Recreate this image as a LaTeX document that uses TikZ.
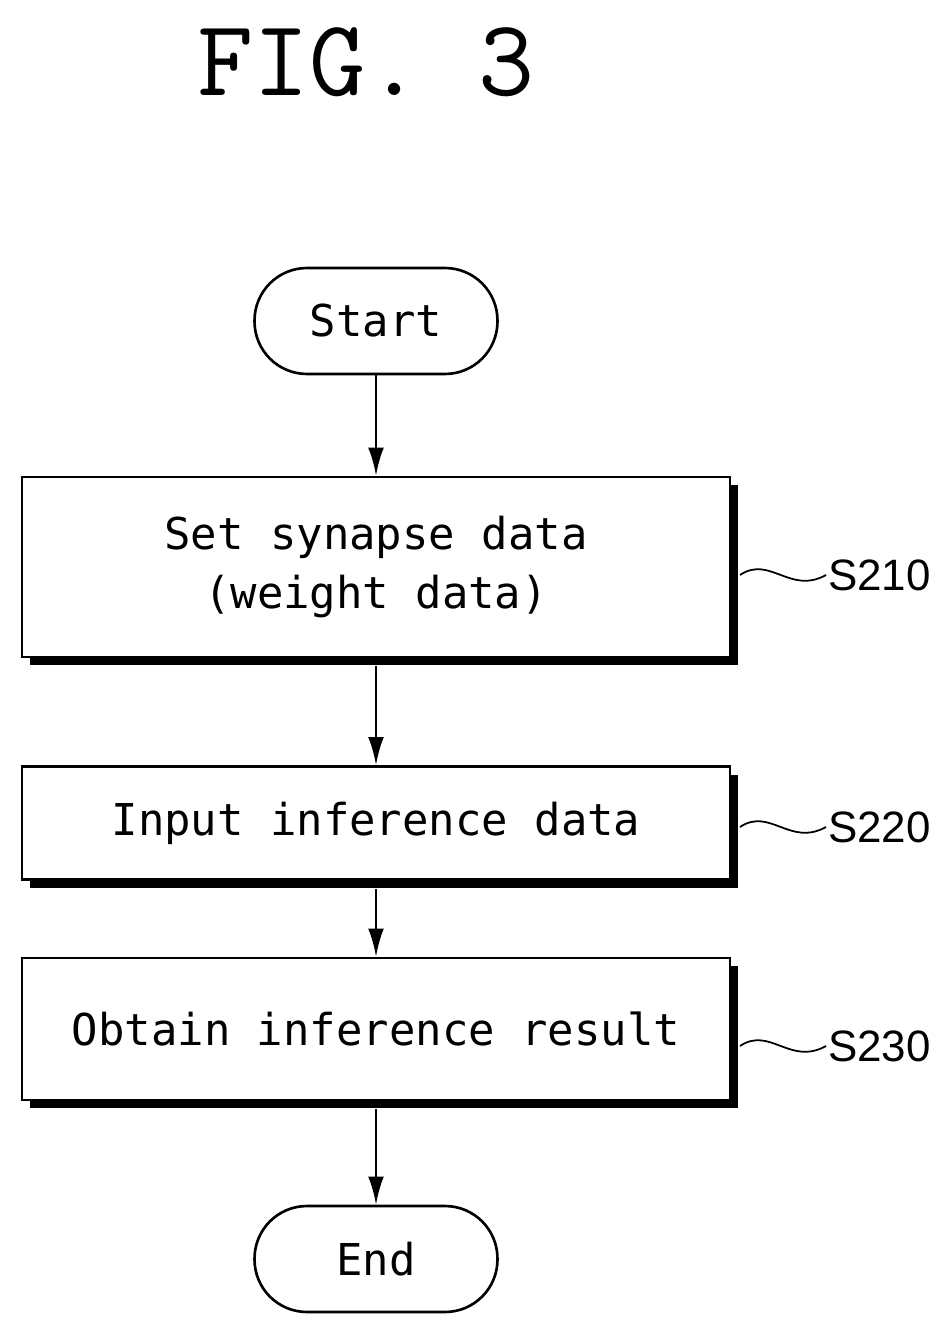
\documentclass[tikz,border=0pt]{standalone}
\usepackage{fontspec}
\setmainfont{Liberation Sans}
\newfontfamily\boxfont{DejaVu Sans Mono}
\usetikzlibrary{positioning}
\tikzset{
	stepbox/.style = {draw, line width=1.5pt, fill=white, minimum width=14.16cm, font=\boxfont\fontsize{25}{34}\selectfont, align=center},
	term/.style = {draw, line width=1.5pt, rounded corners=1.05cm, minimum width=4.86cm, minimum height=2.12cm, font=\boxfont\fontsize{25}{30}\selectfont},
	shadow/.style = {fill=black},
	tag/.style = {font=\fontsize{25}{30}\selectfont, anchor=west, inner sep=1pt},
	flow/.style = {-{Latex[length=16pt,width=9pt]}, line width=1.5pt}
}
\usetikzlibrary{arrows.meta}
\begin{document}
\begin{tikzpicture}[x=0.02cm, y=-0.02cm]
		\useasboundingbox (0,0) rectangle (952,1337);
		% title
		\node (fig) at (366,62) {\ttfamily\fontsize{62}{70}\selectfont FIG.~3};
		% terminals
		\node[term] (start) at (376,321) {Start};
		\node[term] (end) at (376,1259) {End};
		% shadows
		\fill[shadow] (30,485) rectangle (738,665);
		\fill[shadow] (30,775) rectangle (738,888);
		\fill[shadow] (30,966) rectangle (738,1108);
		% steps
		\node[stepbox, minimum height=3.6cm] (s210) at (376,567) {Set synapse data\\(weight data)};
		\node[stepbox, minimum height=2.26cm] (s220) at (376,823) {Input inference data};
		\node[stepbox, minimum height=2.84cm] (s230) at (376,1029) {Obtain inference result};
		% flow
		\draw[flow] (start) -- (s210);
		\draw[flow] (s210.south) ++(0,8) coordinate (a1) -- (s220);
		\draw[flow] (s220.south) ++(0,8) coordinate (a2) -- (s230);
		\draw[flow] (s230.south) ++(0,8) coordinate (a3) -- (end);
		% step labels
		\foreach \n/\y in {210/575, 220/827, 230/1046} {
			\node[tag] (t\n) at (826,\y) {S\n};
			\draw[line width=1pt] (740,\y) .. controls (770,\y-20) and (790,\y+20) .. (t\n.west);
		}
	\end{tikzpicture}
\end{document}
